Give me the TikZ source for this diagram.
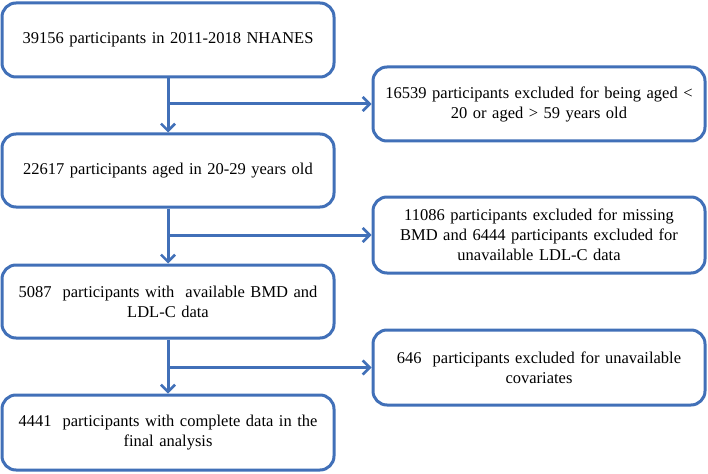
\documentclass[tikz,border=0pt]{standalone}
\usepackage{fontspec}
\setmainfont{Liberation Serif}
\usetikzlibrary{arrows.meta}
\definecolor{flowblue}{HTML}{4170B8}
\tikzset{
  box/.style={draw=flowblue, line width=3pt, rounded corners=14pt, fill=white,
    minimum width=332pt, text width=320pt, align=center,
    font=\fontsize{16.5pt}{20pt}\selectfont, inner sep=0pt},
  flow/.style={draw=flowblue, line width=3pt},
  arr/.style={flow, -{Straight Barb[length=7pt,width=14pt,line width=2.6pt]}}
}
\begin{document}
\begin{tikzpicture}[x=1pt,y=-1pt]
\useasboundingbox (0,0) rectangle (708,473);
\node[box, minimum height=74pt] (b1) at (168,40) {39156 participants in 2011-2018 NHANES};
\node[box, minimum height=73pt] (b2) at (168,170.5) {22617 participants aged in 20-29 years old};
\node[box, minimum height=73pt] (b3) at (168,301.5) {5087~ participants with~ available BMD and\\LDL-C data};
\node[box, minimum height=75pt] (b4) at (168,432.5) {4441~ participants with complete data in the\\final analysis};
\node[box, minimum height=74pt] (r1) at (539,104) {16539 participants excluded for being aged <\\20 or aged > 59 years old};
\node[box, minimum height=76pt] (r2) at (539,235) {11086 participants excluded for missing\\BMD and 6444 participants excluded for\\unavailable LDL-C data};
\node[box, minimum height=75pt] (r3) at (539,367.5) {646~ participants excluded for unavailable\\covariates};
\draw[arr] (b1) -- (b2);
\draw[arr] (b2) -- (b3);
\draw[arr] (b3) -- (b4);
\coordinate (j1) at (b1.south |- r1.west);
\coordinate (j2) at (b2.south |- r2.west);
\coordinate (j3) at (b3.south |- r3.west);
\draw[arr] (j1) -- (r1.west);
\draw[arr] (j2) -- (r2.west);
\draw[arr] (j3) -- (r3.west);
\end{tikzpicture}
\end{document}
